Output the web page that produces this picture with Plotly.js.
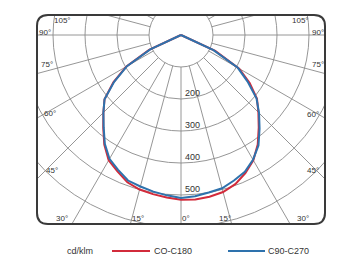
<!DOCTYPE html>
<html>
<head>
<meta charset="utf-8">
<script src="https://cdn.plot.ly/plotly-3.0.1.min.js"></script>
<style>
html,body{margin:0;padding:0;background:#fff;}
#chart{width:363px;height:259px;}
</style>
</head>
<body>
<div id="chart"></div>
<script>
// ---- data (cd/klm vs. angle from nadir; negative = left half) ----
const angles = [-90,-85,-80,-75,-70,-65,-60,-55,-50,-45,-40,-35,-30,-25,-20,-15,-10,-5,0,5,10,15,20,25,30,35,40,45,50,55,60,65,70,75,80,85,90];
const c0c180 = [0,0,0,0,0,110,198,258,312,343,378,418,452,470,490,500,505,510,515,516,513,508,496,476,452,418,378,342,310,262,210,118,0,0,0,0,0];
const c90c270 = [0,0,0,0,0,106,195,255,312,343,376,415,447,465,484,490,497,503,509,506,500,496,484,472,450,422,382,345,308,254,205,112,0,0,0,0,0];
const seriesNames = ['CO-C180','C90-C270'];
const seriesColors = ['#d22b3b','#2e72ad'];
const unitLabel = 'cd/klm';
const ringValues = [100,200,300,400,500,600];
const ringLabels = ['200','300','400','500'];
const rayAngles = [-165,-150,-135,-120,-105,-90,-75,-60,-45,-30,-15,0,15,30,45,60,75,90,105,120,135,150,165,180];
const angleLabels = ['105°','90°','75°','60°','45°','30°','15°','0°','15°','30°','45°','60°','75°','90°','105°'];

// ---- geometry (pixels) ----
const W = 363, H = 259;
const frameL = 37, frameR = 325, frameT = 15, frameB = 224;
const cx = 181, cy = 35;            // pole position in pixels
const k = 0.32;                     // pixels per cd/klm
const xr = [(frameL - cx) / k, (frameR - cx) / k];
const yr = [-(frameB - cy) / k, -(frameT - cy) / k];
const pw = frameR - frameL, ph = frameB - frameT;
const px2data = (px, py) => [(px - cx) / k, -(py - cy) / k];
const px2paper = (px, py) => [(px - frameL) / pw, -(py - frameB) / ph];
const rad = d => d * Math.PI / 180;

function polarTrace(vals, name, color) {
  return {
    type: 'scatter', mode: 'lines', name: name,
    x: angles.map((a, i) => vals[i] * Math.sin(rad(a))),
    y: angles.map((a, i) => -vals[i] * Math.cos(rad(a))),
    line: {color: color, width: 2},
    hoverinfo: 'skip', showlegend: false
  };
}
const traces = [
  polarTrace(c0c180, seriesNames[0], seriesColors[0]),
  polarTrace(c90c270, seriesNames[1], seriesColors[1])
];

const gridColor = '#8a8a8a';
const shapes = [];
ringValues.forEach(r => shapes.push({
  type: 'circle', xref: 'x', yref: 'y', x0: -r, x1: r, y0: -r, y1: r,
  line: {color: gridColor, width: 0.9}, layer: 'below'
}));
rayAngles.forEach(a => {
  const r0 = ringValues[0], r1 = 2000;
  shapes.push({
    type: 'line', xref: 'x', yref: 'y',
    x0: r0 * Math.sin(rad(a)), y0: -r0 * Math.cos(rad(a)),
    x1: r1 * Math.sin(rad(a)), y1: -r1 * Math.cos(rad(a)),
    line: {color: gridColor, width: 0.9}, layer: 'below'
  });
});
// rounded frame (paper coords)
const cr = 11;
const rx = cr / pw, ry = cr / ph;
shapes.push({
  type: 'path', xref: 'paper', yref: 'paper', layer: 'above',
  path: `M ${rx},0 L ${1-rx},0 Q 1,0 1,${ry} L 1,${1-ry} Q 1,1 ${1-rx},1 L ${rx},1 Q 0,1 0,${1-ry} L 0,${ry} Q 0,0 ${rx},0 Z`,
  line: {color: '#3a3a3a', width: 2}
});

const txtFont = {family: 'Liberation Sans, Arial, sans-serif', size: 8, color: '#333'};
const annotations = [];
// ring value labels
ringLabels.forEach(t => {
  const r = +t;
  annotations.push({
    xref: 'x', yref: 'y', x: 8, y: -r, xanchor: 'left', yanchor: 'bottom',
    text: t, showarrow: false, font: {...txtFont, size: 9}, borderpad: 0
  });
});
// angle labels (pixel positions around the frame)
const anglePos = [[62,20],[45,32],[47,64],[50,113],[52,170],[62,218],[138,218],[186,218],[225,218],[303,218],[313,170],[313,114],[318,64],[318,32],[300,20]];
angleLabels.forEach((t, i) => {
  const p = px2data(anglePos[i][0], anglePos[i][1]);
  annotations.push({
    xref: 'x', yref: 'y', x: p[0], y: p[1], xanchor: 'center', yanchor: 'middle',
    text: t, showarrow: false, font: txtFont, borderpad: 0
  });
});
// legend key (drawn below the frame)
const legY = 251;
const unitP = px2paper(80, legY);
annotations.push({
  xref: 'paper', yref: 'paper', x: unitP[0], y: unitP[1],
  xanchor: 'center', yanchor: 'middle', text: unitLabel, showarrow: false,
  font: {...txtFont, size: 9}, borderpad: 0
});
const legItems = [[112, 150, 153], [228, 265, 267]];
legItems.forEach((it, i) => {
  const a = px2paper(it[0], legY), b = px2paper(it[1], legY), t = px2paper(it[2], legY);
  shapes.push({
    type: 'line', xref: 'paper', yref: 'paper', x0: a[0], x1: b[0], y0: a[1], y1: b[1],
    line: {color: seriesColors[i], width: 2}
  });
  annotations.push({
    xref: 'paper', yref: 'paper', x: t[0], y: t[1], xanchor: 'left', yanchor: 'middle',
    text: seriesNames[i], showarrow: false, font: {...txtFont, size: 9}, borderpad: 0
  });
});

const layout = {
  width: W, height: H,
  margin: {l: frameL, r: W - frameR, t: frameT, b: H - frameB, pad: 0},
  paper_bgcolor: '#fff', plot_bgcolor: '#fff',
  xaxis: {range: xr, visible: false, fixedrange: true, showgrid: false, zeroline: false},
  yaxis: {range: yr, visible: false, fixedrange: true, showgrid: false, zeroline: false},
  showlegend: false,
  shapes: shapes,
  annotations: annotations
};

Plotly.newPlot('chart', traces, layout, {displayModeBar: false, staticPlot: true});
</script>
</body>
</html>
